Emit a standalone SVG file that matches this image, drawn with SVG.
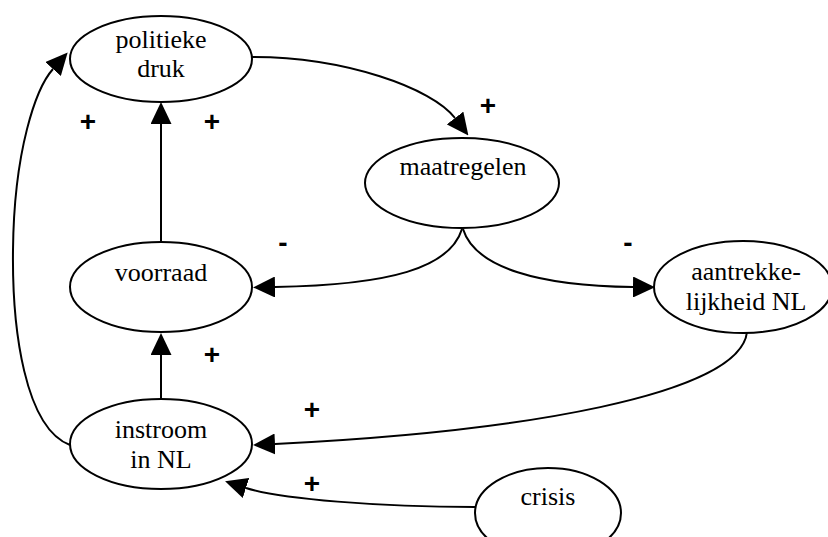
<svg xmlns="http://www.w3.org/2000/svg" width="828" height="537" viewBox="0 0 828 537">
  <style>
    .node ellipse { fill: #ffffff; stroke: #000000; stroke-width: 2; }
    .node text { font-family: "Liberation Serif", "Times New Roman", serif; font-size: 26px; fill: #000000; text-anchor: middle; }
    .edge { fill: none; stroke: #000000; stroke-width: 2; marker-end: url(#head); }
    .sign { font-family: "Liberation Sans", Arial, sans-serif; font-size: 28px; font-weight: bold; fill: #000000; text-anchor: middle; }
  </style>
  <defs>
    <marker id="head" viewBox="0 0 22 21" refX="0" refY="10.5" markerWidth="22" markerHeight="21" markerUnits="userSpaceOnUse" orient="auto">
      <path d="M0,0 L22,10.5 L0,21 Z" fill="#000000"/>
    </marker>
  </defs>
  <rect width="828" height="537" fill="#ffffff"/>

  <!-- connectors -->
  <g id="edges">
    <path class="edge" d="M252,57 C345,57 432,88 455,118"/>
    <path class="edge" d="M161,242 L161,124"/>
    <path class="edge" d="M161,399 L161,355"/>
    <path class="edge" d="M70,445 C25,428 12,330 13,250 C14,150 36,88 53,69"/>
    <path class="edge" d="M462,229 C450,268 390,285 275,287"/>
    <path class="edge" d="M463,229 C475,268 540,286 633,287"/>
    <path class="edge" d="M747,332 C740,395 520,432 275,444"/>
    <path class="edge" d="M475,507 C380,507 280,499 246,488"/>
  </g>

  <!-- polarity labels -->
  <g id="labels">
    <text class="sign" x="488" y="115">+</text>
    <text class="sign" x="88" y="131">+</text>
    <text class="sign" x="212" y="131">+</text>
    <text class="sign" x="212" y="364">+</text>
    <text class="sign" x="283" y="252">-</text>
    <text class="sign" x="628" y="252">-</text>
    <text class="sign" x="312" y="419">+</text>
    <text class="sign" x="312" y="493">+</text>
  </g>

  <!-- nodes -->
  <g id="politieke-druk" class="node">
    <ellipse cx="161" cy="59" rx="91" ry="43"/>
    <text x="161" y="48">politieke</text>
    <text x="161" y="77">druk</text>
  </g>
  <g id="maatregelen" class="node">
    <ellipse cx="462" cy="183" rx="97" ry="45"/>
    <text x="463" y="175">maatregelen</text>
  </g>
  <g id="voorraad" class="node">
    <ellipse cx="161" cy="287" rx="91" ry="45"/>
    <text x="161" y="281">voorraad</text>
  </g>
  <g id="aantrekkelijkheid-nl" class="node">
    <ellipse cx="743" cy="287" rx="89" ry="46"/>
    <text x="746" y="280">aantrekke-</text>
    <text x="746" y="310">lijkheid NL</text>
  </g>
  <g id="instroom-in-nl" class="node">
    <ellipse cx="161" cy="444" rx="91" ry="45"/>
    <text x="161" y="438">instroom</text>
    <text x="161" y="468">in NL</text>
  </g>
  <g id="crisis" class="node">
    <ellipse cx="548" cy="513" rx="73" ry="45"/>
    <text x="548" y="505">crisis</text>
  </g>
</svg>
